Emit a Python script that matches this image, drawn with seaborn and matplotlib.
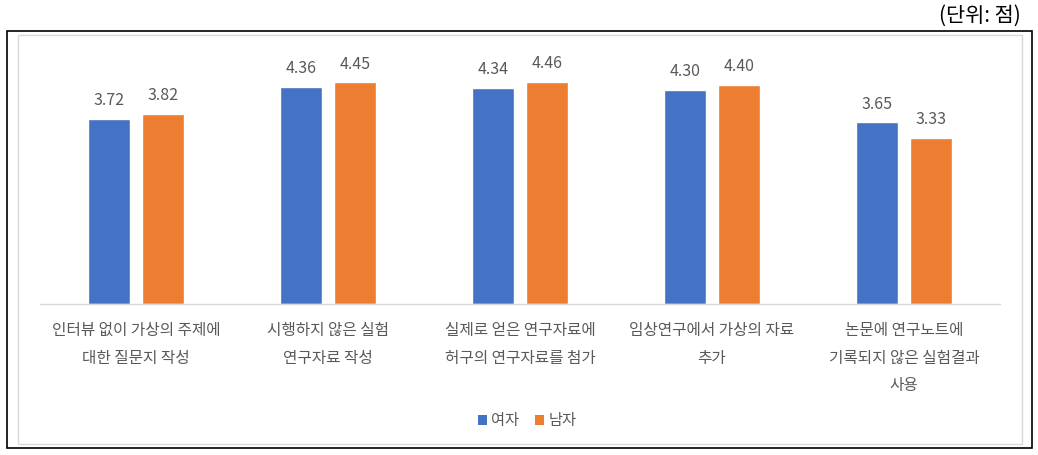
import matplotlib
matplotlib.use("Agg")
import matplotlib.pyplot as plt
import seaborn as sns
import pandas as pd
from matplotlib.patches import Rectangle, Patch

categories = [
    "인터뷰 없이 가상의 주제에\n대한 질문지 작성",
    "시행하지 않은 실험\n연구자료 작성",
    "실제로 얻은 연구자료에\n허구의 연구자료를 첨가",
    "임상연구에서 가상의 자료\n추가",
    "논문에 연구노트에\n기록되지 않은 실험결과\n사용",
]
female = [3.72, 4.36, 4.34, 4.30, 3.65]
male = [3.82, 4.45, 4.46, 4.40, 3.33]
series = ["여자", "남자"]
colors = ["#4472C4", "#ED7D31"]

sns.set_theme(style="white")
plt.rcParams["font.family"] = ["Noto Sans CJK KR", "DejaVu Sans"]

df = pd.DataFrame({
    "cat": categories * 2,
    "val": female + male,
    "sex": [series[0]] * len(categories) + [series[1]] * len(categories),
})

fig = plt.figure(figsize=(10.38, 4.55), dpi=100)
ax = fig.add_axes([40 / 1038, 1 - 304 / 455, 960 / 1038, (304 - 55) / 455])

sns.barplot(data=df, x="cat", y="val", hue="sex", palette=colors,
            width=0.562, gap=0.204, ax=ax, legend=False, saturation=1)

for cont in ax.containers:
    ax.bar_label(cont, fmt="%.2f", padding=7, fontsize=11.5, color="#595959")

ax.set_ylim(0, 5)
ax.set_xlim(-0.5, 4.5)
ax.set_xlabel("")
ax.set_ylabel("")
ax.set_yticks([])
for s in ["top", "right", "left"]:
    ax.spines[s].set_visible(False)
ax.spines["bottom"].set_color("#d9d9d9")
ax.spines["bottom"].set_linewidth(1)
ax.tick_params(axis="x", length=0, pad=13)
ax.set_xticks(range(len(categories)))
ax.set_xticklabels(categories, fontsize=11.3, color="#595959", linespacing=1.82,
                   va="top")

# legend
handles = [Patch(facecolor=c, edgecolor="none") for c in colors]
fig.legend(handles, series, loc="center", bbox_to_anchor=(527 / 1038, 1 - 421 / 455),
           ncol=2, frameon=False, fontsize=11, handlelength=0.6, handleheight=0.6,
           handletextpad=0.3, columnspacing=1.0, labelcolor="#595959")

# borders
fig.patches.append(Rectangle((7 / 1038, 1 - 448 / 455), (1032 - 7) / 1038, (448 - 31) / 455,
                             transform=fig.transFigure, fill=False, edgecolor="black",
                             linewidth=1.2, zorder=0))
fig.patches.append(Rectangle((18 / 1038, 1 - 444 / 455), (1022 - 18) / 1038, (444 - 35) / 455,
                             transform=fig.transFigure, fill=False, edgecolor="#d9d9d9",
                             linewidth=1.0, zorder=0))

fig.text(1021 / 1038, 1 - 16 / 455, "(단위: 점)", ha="right", va="center",
         fontsize=15, color="black")

fig.savefig("out.png", dpi=100)
